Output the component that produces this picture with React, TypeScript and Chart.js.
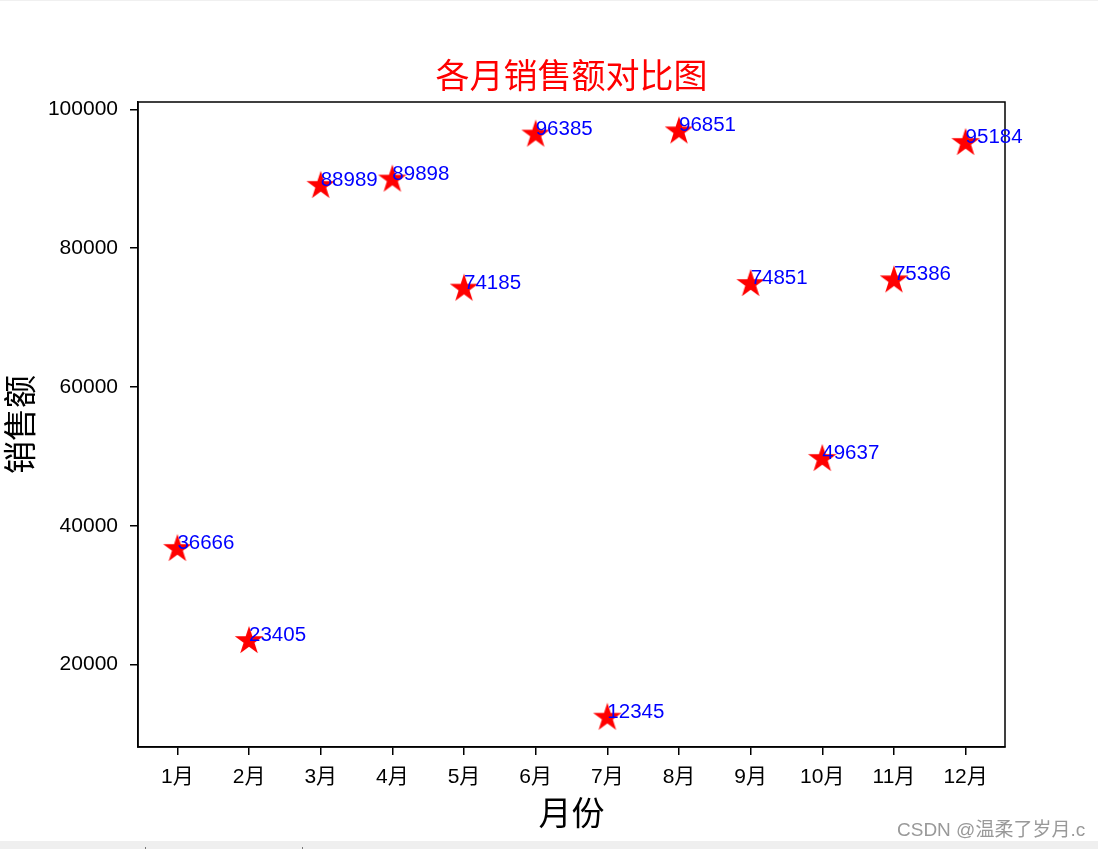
import React, { useEffect, useRef } from "react";
import { Chart, registerables } from "chart.js";

Chart.register(...registerables);

const months = ["1月", "2月", "3月", "4月", "5月", "6月", "7月", "8月", "9月", "10月", "11月", "12月"];
const sales = [36666, 23405, 88989, 89898, 74185, 96385, 12345, 96851, 74851, 49637, 75386, 95184];
const yTicks = [20000, 40000, 60000, 80000, 100000];
const chartTitle = "各月销售额对比图";
const xTitle = "月份";
const yTitle = "销售额";
const watermark = "CSDN @温柔了岁月.c";

const LATIN = "'Liberation Sans', 'Noto Sans CJK SC', sans-serif";
const CJK = "'Noto Sans CJK SC', sans-serif";

function makeStar(R: number, color: string) {
  const size = Math.ceil(R * 2 + 2);
  const c = document.createElement("canvas");
  c.width = size;
  c.height = size;
  const ctx = c.getContext("2d")!;
  ctx.translate(size / 2, size / 2);
  ctx.beginPath();
  for (let i = 0; i < 10; i++) {
    const r = i % 2 === 0 ? R : R * 0.381966;
    const a = -Math.PI / 2 + (i * Math.PI) / 5;
    ctx.lineTo(r * Math.cos(a), r * Math.sin(a));
  }
  ctx.closePath();
  ctx.fillStyle = color;
  ctx.fill();
  return c;
}

const frameAndLabels = {
  id: "frameAndLabels",
  afterDatasetsDraw(chart: any) {
    const { ctx, chartArea } = chart;
    const xs = chart.scales.x;
    const ys = chart.scales.y;
    ctx.save();
    ctx.strokeStyle = "#000";
    ctx.lineWidth = 1.5;
    ctx.strokeRect(chartArea.left, chartArea.top, chartArea.right - chartArea.left, chartArea.bottom - chartArea.top);
    ctx.fillStyle = "#0000ff";
    ctx.font = `20.5px ${LATIN}`;
    ctx.textAlign = "left";
    ctx.textBaseline = "alphabetic";
    sales.forEach((v, i) => {
      ctx.fillText(String(v), xs.getPixelForValue(i), ys.getPixelForValue(v));
    });
    ctx.fillStyle = "#ff0000";
    ctx.font = `34px ${CJK}`;
    ctx.textAlign = "center";
    ctx.textBaseline = "middle";
    ctx.fillText(chartTitle, (chartArea.left + chartArea.right) / 2, 75);
    ctx.restore();
  },
};

export default function App() {
  const ref = useRef<HTMLCanvasElement>(null);
  useEffect(() => {
    const star = makeStar(15, "#ff0000");
    const chart = new Chart(ref.current!, {
      type: "scatter",
      data: {
        datasets: [
          {
            data: sales.map((v, i) => ({ x: i, y: v })),
            pointStyle: star as any,
            pointRadius: 15,
            backgroundColor: "#ff0000",
            borderColor: "#ff0000",
            showLine: false,
          },
        ],
      },
      options: {
        animation: false,
        responsive: false,
        devicePixelRatio: 1,
        layout: { padding: { left: 0, right: 93, top: 102, bottom: 0 } },
        plugins: {
          legend: { display: false },
          tooltip: { enabled: false },
          title: { display: false },
        },
        scales: {
          x: {
            type: "linear",
            min: -0.55,
            max: 11.55,
            afterBuildTicks: (s: any) => {
              s.ticks = months.map((_, i) => ({ value: i }));
            },
            afterFit: (s: any) => {
              s.height = 93;
            },
            ticks: {
              callback: (v: any) => months[v] ?? "",
              color: "#000",
              font: { family: LATIN, size: 21 },
              padding: 10,
              maxRotation: 0,
              autoSkip: false,
            },
            grid: { drawOnChartArea: false, drawTicks: true, tickLength: 8, color: "#000", lineWidth: 1.5 },
            border: { display: true, color: "#000", width: 1.5 },
            title: {
              display: true,
              text: xTitle,
              color: "#000",
              font: { family: CJK, size: 33 },
              padding: { top: 0, bottom: 8 },
            },
          },
          y: {
            type: "linear",
            min: 8120,
            max: 101076,
            afterBuildTicks: (s: any) => {
              s.ticks = yTicks.map((v) => ({ value: v }));
            },
            afterFit: (s: any) => {
              s.width = 138;
            },
            ticks: {
              callback: (v: any) => String(v),
              color: "#000",
              font: { family: LATIN, size: 21 },
              padding: 12,
            },
            grid: { drawOnChartArea: false, drawTicks: true, tickLength: 8, color: "#000", lineWidth: 1.5 },
            border: { display: true, color: "#000", width: 1.5 },
            title: {
              display: true,
              text: yTitle,
              color: "#000",
              font: { family: CJK, size: 33 },
              padding: { top: 0, bottom: 0 },
            },
          },
        },
      },
      plugins: [frameAndLabels],
    } as any);
    return () => chart.destroy();
  }, []);

  return (
    <div style={{ position: "absolute", left: 0, top: 0, width: 1098, height: 849, background: "#fff", overflow: "hidden" }}>
      <canvas ref={ref} width={1098} height={840} style={{ position: "absolute", left: 0, top: 0, width: 1098, height: 840 }} />
      <div style={{ position: "absolute", left: 0, top: 0, width: 1098, height: 1, background: "#f0f0f0" }} />
      <div
        style={{
          position: "absolute",
          left: 897,
          top: 820,
          fontFamily: LATIN,
          fontSize: 19,
          lineHeight: "19px",
          color: "#999",
          whiteSpace: "nowrap",
        }}
      >
        {watermark}
      </div>
      <div style={{ position: "absolute", left: 0, top: 841, width: 1098, height: 8, background: "#efefef" }} />
      <div style={{ position: "absolute", left: 145, top: 847, width: 1, height: 2, background: "#777" }} />
      <div style={{ position: "absolute", left: 302, top: 847, width: 1, height: 2, background: "#777" }} />
    </div>
  );
}
